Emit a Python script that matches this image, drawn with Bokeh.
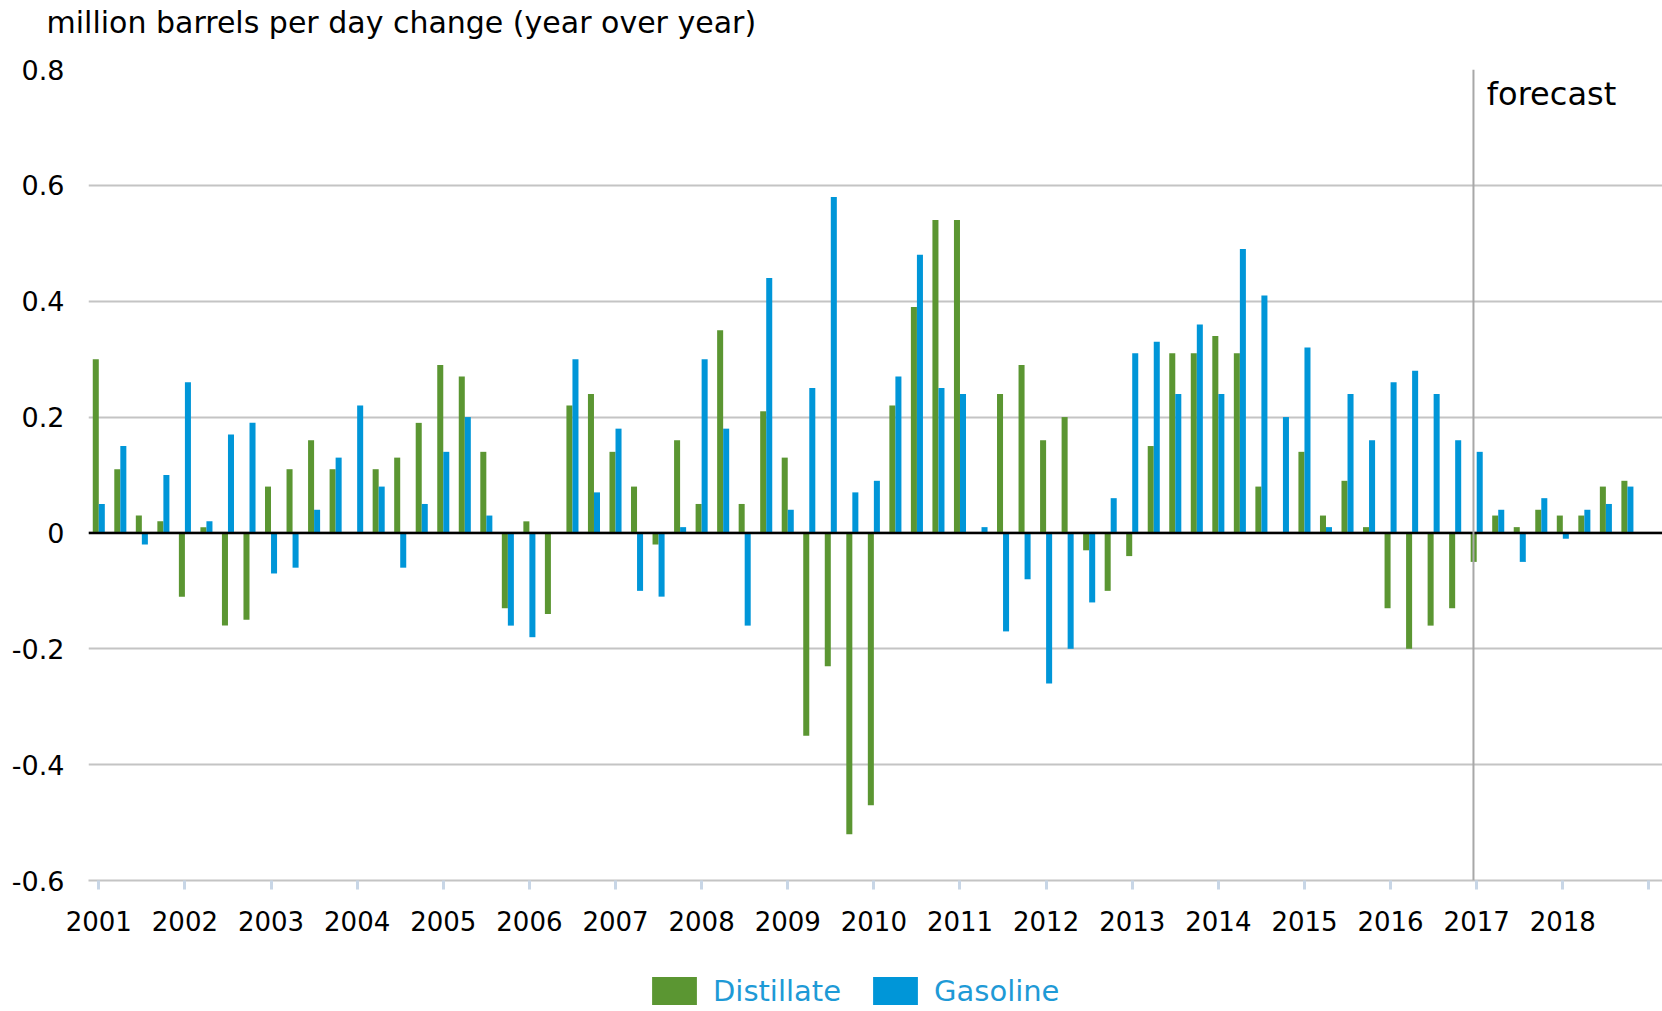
import numpy as np
from bokeh.plotting import figure
from bokeh.layouts import column
from bokeh.models import (ColumnDataSource, Range1d, FixedTicker, Span, Label,
                          Legend, LegendItem)
from bokeh.transform import dodge
from bokeh.embed import file_html
from bokeh.resources import INLINE

# ---------------- data ----------------
years = list(range(2001, 2019))
quarters = [f"{y}Q{q}" for y in years for q in range(1, 5)]

distillate = [
    0.30, 0.11, 0.03, 0.02,    # 2001
    -0.11, 0.01, -0.16, -0.15,  # 2002
    0.08, 0.11, 0.16, 0.11,    # 2003
    0.00, 0.11, 0.13, 0.19,    # 2004
    0.29, 0.27, 0.14, -0.13,   # 2005
    0.02, -0.14, 0.22, 0.24,   # 2006
    0.14, 0.08, -0.02, 0.16,   # 2007
    0.05, 0.35, 0.05, 0.21,    # 2008
    0.13, -0.35, -0.23, -0.52,  # 2009
    -0.47, 0.22, 0.39, 0.54,   # 2010
    0.54, 0.00, 0.24, 0.29,    # 2011
    0.16, 0.20, -0.03, -0.10,  # 2012
    -0.04, 0.15, 0.31, 0.31,   # 2013
    0.34, 0.31, 0.08, 0.00,    # 2014
    0.14, 0.03, 0.09, 0.01,    # 2015
    -0.13, -0.20, -0.16, -0.13,  # 2016
    -0.05, 0.03, 0.01, 0.04,   # 2017
    0.03, 0.03, 0.08, 0.09,    # 2018
]
gasoline = [
    0.05, 0.15, -0.02, 0.10,   # 2001
    0.26, 0.02, 0.17, 0.19,    # 2002
    -0.07, -0.06, 0.04, 0.13,  # 2003
    0.22, 0.08, -0.06, 0.05,   # 2004
    0.14, 0.20, 0.03, -0.16,   # 2005
    -0.18, 0.00, 0.30, 0.07,   # 2006
    0.18, -0.10, -0.11, 0.01,  # 2007
    0.30, 0.18, -0.16, 0.44,   # 2008
    0.04, 0.25, 0.58, 0.07,    # 2009
    0.09, 0.27, 0.48, 0.25,    # 2010
    0.24, 0.01, -0.17, -0.08,  # 2011
    -0.26, -0.20, -0.12, 0.06,  # 2012
    0.31, 0.33, 0.24, 0.36,    # 2013
    0.24, 0.49, 0.41, 0.20,    # 2014
    0.32, 0.01, 0.24, 0.16,    # 2015
    0.26, 0.28, 0.24, 0.16,    # 2016
    0.14, 0.04, -0.05, 0.06,   # 2017
    -0.01, 0.04, 0.05, 0.08,   # 2018
]

y_ticks = [-0.6, -0.4, -0.2, 0, 0.2, 0.4, 0.6, 0.8]
y_tick_labels = ["-0.6", "-0.4", "-0.2", "0", "0.2", "0.4", "0.6", "0.8"]
year_labels = [str(y) for y in years]
forecast_start = "2017Q1"

title_text = "million barrels per day change (year over year)"
series_names = ["Distillate", "Gasoline"]
colors = ["#5b9632", "#0096d8"]

FONT = "DejaVu Sans"

# ---------------- main figure ----------------
x_idx = list(range(len(quarters)))
source = ColumnDataSource(dict(x=x_idx, q=quarters, d=distillate, g=gasoline))

n = len(quarters)
p = figure(frame_width=1574, frame_height=811,
           min_border_left=88, min_border_right=0,
           min_border_top=69, min_border_bottom=70,
           x_range=Range1d(-0.478, n + 0.63), y_range=Range1d(-0.6, 0.8),
           output_backend="svg", toolbar_location=None,
           outline_line_color=None, background_fill_color="white")

bw = 0.28
r_d = p.vbar(x=dodge("x", -bw / 2, range=p.x_range), top="d", bottom=0, width=bw,
             source=source, fill_color=colors[0], line_color=None)
r_g = p.vbar(x=dodge("x", bw / 2, range=p.x_range), top="g", bottom=0, width=bw,
             source=source, fill_color=colors[1], line_color=None)

# title (a blank second line lifts the text away from the frame)
p.title.text = title_text + "\n "
p.title.align = "left"
p.title.offset = -42
p.title.text_font = FONT
p.title.text_font_size = "30px"
p.title.text_line_height = 0.8
p.title.text_font_style = "normal"
p.title.text_color = "black"
p.title.standoff = 3

# x axis
xa = p.xaxis[0]
xa.axis_label = None
year_ticks = [i for i in range(0, n + 1, 4)]
xa.ticker = FixedTicker(ticks=year_ticks)
overrides = {i: (year_labels[i // 4] if i // 4 < len(year_labels) else "") for i in year_ticks}
xa.major_label_overrides = overrides
xa.axis_line_color = "#c4c4c4"
xa.axis_line_width = 2
xa.major_tick_line_color = "#c8d6e6"
xa.major_tick_line_width = 3
xa.major_tick_out = 9
xa.major_tick_in = 0
xa.minor_tick_line_color = None
xa.major_label_text_font = FONT
xa.major_label_text_font_size = "26px"
xa.major_label_text_color = "black"
xa.major_label_standoff = 21

# y axis
ya = p.yaxis[0]
ya.axis_label = None
ya.ticker = FixedTicker(ticks=y_ticks)
ya.major_label_overrides = {t: l for t, l in zip(y_ticks, y_tick_labels)}
ya.axis_line_color = None
ya.major_tick_line_color = None
ya.minor_tick_line_color = None
ya.major_tick_out = 0
ya.major_tick_in = 0
ya.major_label_standoff = 24
ya.major_label_text_font = FONT
ya.major_label_text_font_size = "27px"
ya.major_label_text_color = "black"

p.xgrid.grid_line_color = None
p.ygrid.grid_line_color = "#c4c4c4"
p.ygrid.grid_line_width = 2

# zero line
p.add_layout(Span(location=0, dimension="width", line_color="black", line_width=2.5))

# forecast divider
fx = quarters.index(forecast_start) - 0.15
p.add_layout(Span(location=fx, dimension="height", line_color="#a8a8a8", line_width=2))
p.add_layout(Label(x=fx + 0.62, y=0.758, text="forecast", text_font=FONT,
                   text_font_size="32px", text_color="black",
                   text_baseline="alphabetic"))

# ---------------- legend strip ----------------
leg = figure(width=1662, height=58, min_border=0,
             x_range=Range1d(0, 1), y_range=Range1d(0, 1),
             x_axis_location=None, y_axis_location=None,
             output_backend="svg", toolbar_location=None,
             outline_line_color=None, background_fill_color="white")
leg.grid.visible = False
# zero-height proxy bars: they only lend their colours to the legend swatches
proxy = ColumnDataSource(dict(x=[0.5], top=[0.0]))
lr_d = leg.vbar(x="x", top="top", bottom=0, width=0.01, source=proxy,
                fill_color=colors[0], line_color=None)
lr_g = leg.vbar(x="x", top="top", bottom=0, width=0.01, source=proxy,
                fill_color=colors[1], line_color=None)

legend = Legend(items=[LegendItem(label=series_names[0], renderers=[lr_d]),
                       LegendItem(label=series_names[1], renderers=[lr_g])],
                orientation="horizontal", location=(558, 0),
                glyph_width=56, glyph_height=35, label_standoff=11, spacing=26,
                padding=0, margin=0, border_line_color=None,
                background_fill_alpha=0,
                label_text_font=FONT, label_text_font_size="29px",
                label_text_color="#1e9ad6")
leg.add_layout(legend, "center")

layout = column(p, leg, spacing=0)

open("out.html", "w").write(file_html(layout, INLINE))
